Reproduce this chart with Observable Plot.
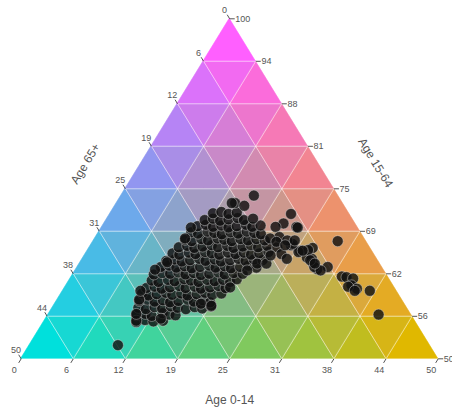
<!DOCTYPE html>
<html><head><meta charset="utf-8">
<script src="https://cdn.jsdelivr.net/npm/d3@7"></script>
<script src="https://cdn.jsdelivr.net/npm/@observablehq/plot@0.6"></script>
<style>body{margin:0;background:#fff}</style>
</head><body><div id="chart"></div>
<script>
// Axis titles and tick labels
const titleBottom = "Age 0-14";
const titleRight = "Age 15-64";
const titleLeft = "Age 65+";
const ticks0_14 = [0, 6, 12, 19, 25, 31, 38, 44, 50];
const ticks15_64 = [100, 94, 88, 81, 75, 69, 62, 56, 50];
const ticks65 = [0, 6, 12, 19, 25, 31, 38, 44, 50];

// Each entry: [share aged 0-14 (%), share aged 15-64 (%)]; 65+ is the remainder
const bodyShares = [
  [11.1,55.4],[12.0,55.7],[13.1,55.5],[14.2,55.6],
  [10.6,56.4],[11.6,56.6],[12.5,56.3],[13.6,56.7],[14.5,56.5],[15.3,56.4],
  [10.3,57.5],[11.3,57.3],[12.2,57.6],[13.2,57.4],[14.1,57.7],[15.0,57.5],[16.1,57.3],[17.0,57.6],[18.0,57.4],[18.9,57.7],
  [9.9,58.5],[10.8,58.7],[11.8,58.4],[12.7,58.6],[13.7,58.3],[14.6,58.5],[15.6,58.7],[16.5,58.4],[17.5,58.6],[18.5,58.3],
  [9.7,59.6],[10.6,59.3],[11.5,59.5],[12.5,59.7],[13.4,59.4],[14.4,59.6],[15.3,59.3],[16.3,59.5],[17.2,59.7],[18.2,59.4],[19.2,59.6],
  [9.8,60.4],[10.7,60.6],[11.7,60.3],[12.6,60.5],[13.6,60.7],[14.5,60.4],[15.5,60.6],[16.4,60.3],[17.4,60.5],[18.3,60.7],[19.3,60.4],
  [9.9,61.5],[10.8,61.3],[11.8,61.6],[12.7,61.4],[13.7,61.7],[14.6,61.5],[15.6,61.3],[16.5,61.6],[17.5,61.4],[18.4,61.6],[19.4,61.3],[20.0,61.7],
  [9.7,62.4],[10.6,62.6],[11.6,62.5],[12.5,62.7],[13.5,62.4],[14.4,62.6],[15.4,62.3],[16.3,62.5],[17.3,62.7],[18.2,62.4],[19.2,62.6],[20.3,62.5],
  [10.0,63.5],[10.9,63.7],[11.9,63.4],[12.8,63.6],[13.8,63.3],[14.7,63.5],[15.7,63.7],[16.6,63.4],[17.6,63.6],[18.5,63.3],[19.5,63.5],[20.4,63.7],[21.5,63.4],
  [10.2,64.4],[11.1,64.6],[12.1,64.3],[13.0,64.5],[14.0,64.7],[14.9,64.4],[15.9,64.6],[16.8,64.3],[17.8,64.5],[18.7,64.7],[19.7,64.4],[20.6,64.6],[21.7,64.5],
  [10.4,65.5],[11.3,65.3],[12.3,65.6],[13.2,65.4],[14.2,65.7],[15.1,65.5],[16.1,65.3],[17.0,65.6],[18.0,65.4],[18.9,65.6],[19.9,65.3],[20.8,65.5],[21.8,65.7],
  [10.7,66.4],[11.6,66.6],[12.6,66.3],[13.5,66.5],[14.5,66.7],[15.4,66.4],[16.4,66.6],[17.3,66.3],[18.3,66.5],[19.2,66.7],[20.2,66.4],[21.2,66.6],
  [10.9,67.5],[11.8,67.3],[12.8,67.6],[13.7,67.4],[14.7,67.7],[15.6,67.5],[16.6,67.3],[17.5,67.6],[18.5,67.4],[19.4,67.6],[20.5,67.4],
  [11.1,68.6],[12.0,68.4],[13.0,68.7],[13.9,68.5],[14.9,68.3],[15.8,68.6],[16.8,68.4],[17.7,68.7],[18.7,68.5],[19.6,68.3],
  [11.4,69.5],[12.3,69.7],[13.3,69.4],[14.2,69.6],[15.2,69.3],[16.1,69.5],[17.1,69.7],[18.0,69.4],[18.9,69.6],
  [11.8,70.4],[12.7,70.6],[13.7,70.3],[14.6,70.5],[15.6,70.7],[16.5,70.4],[17.5,70.6],
  [12.3,71.4],[13.2,71.6],[14.2,71.3],[15.1,71.5]
];
const edgeShares = [
  [10.7,69.3],[10.8,67.7],[9.5,63.1],[10.4,64.2],[11.0,55.6],[10.5,56.6],[9.8,58.7],[9.3,60.0],[13.8,55.9],
  [17.5,58.1],[18.9,57.8],[19.8,60.5],[20.6,63.0],[21.3,64.0]
];
const tailShares = [
  [22.5,66.4],[24.0,66.7],[25.5,65.9],[26.8,64.9],[27.5,64.7],[28.9,63.2],[30.0,63.5],[26.8,66.3],
  [28.0,64.0],[26.4,66.0],[25.4,65.7],[24.1,66.9],[23.5,65.4],[22.4,64.0],[23.3,69.4],[21.7,71.3],
  [21.5,69.9],[20.8,69.4],[23.5,69.3],[22.0,67.9],[23.2,67.4],[22.3,65.2],[28.4,63.5],[29.4,63.0],
  [21.0,67.7],[22.0,67.2],[23.3,66.7],[24.1,67.4],[25.8,65.9],[24.5,64.7],[27.4,64.5],[28.2,64.0]
];
const outlierShares = [
  [29.3,67.3],
  [32.4,62.1],[33.0,62.0],[33.9,61.8],[34.2,60.8],[35.1,60.3],[33.9,60.6],[36.8,60.0],[35.0,60.0],[39.6,56.5],
  [15.9,74.0],[14.2,72.9],[13.8,72.9],[15.5,72.5],
  [10.6,52.0]
];

// Vertex colours: top (15-64 = 100), right (0-14 = 50), left (65+ = 50)
const topColor = [269, 85, 269];
const rightColor = [233, 186, -23];
const leftColor = [-23, 232, 229];

// ternary -> plane: wT = weight of top vertex, wR = weight of right vertex
const planeX = (wT, wR) => wR + wT / 2;
const toX = ([a, b]) => planeX((b - 50) / 50, a / 50);
const toY = ([a, b]) => (b - 50) / 50;

function mix(wT, wR) {
  const wL = 1 - wT - wR;
  const c = [0, 1, 2].map(i => Math.max(0, Math.min(255, Math.round(wT * topColor[i] + wR * rightColor[i] + wL * leftColor[i]))));
  return `rgb(${c.join(",")})`;
}

const N = 8;
const cells = [];
let id = 0;
for (let q = 0; q < N; q++) {
  const y0 = q / N, y1 = (q + 1) / N;
  for (let k = 0; k < N - q; k++) {
    const xl = (k + q / 2) / N, xr = (k + 1 + q / 2) / N, xa = (k + 0.5 + q / 2) / N;
    const cx = (xl + xr + xa) / 3, cy = (2 * y0 + y1) / 3;
    const col = mix(cy, cx - cy / 2);
    cells.push({id, x: xl, y1: y0, y2: y0, fill: col}, {id, x: xa, y1: y0, y2: y1, fill: col}, {id, x: xr, y1: y0, y2: y0, fill: col});
    id++;
  }
  for (let k = 0; k < N - q - 1; k++) {
    const xl = (k + (q + 1) / 2) / N, xr = (k + 1 + (q + 1) / 2) / N, xm = (k + 1 + q / 2) / N;
    const cx = (xl + xr + xm) / 3, cy = (y0 + 2 * y1) / 3;
    const col = mix(cy, cx - cy / 2);
    cells.push({id, x: xl, y1: y1, y2: y1, fill: col}, {id, x: xm, y1: y0, y2: y1, fill: col}, {id, x: xr, y1: y1, y2: y1, fill: col});
    id++;
  }
}

const grid = [];
for (let i = 1; i < N; i++) {
  const t = i / N;
  grid.push({x1: t / 2, y1: t, x2: 1 - t / 2, y2: t});
  grid.push({x1: t, y1: 0, x2: t + (1 - t) / 2, y2: 1 - t});
  grid.push({x1: 1 - t, y1: 0, x2: (1 - t) / 2, y2: 1 - t});
}

// tick positions (base on edge, outward direction along grid line)
const tickLen = 0.012;
const leftTicks = ticks65.map((v, k) => {
  const wT = 1 - k / N;
  return {label: v, x: planeX(wT, 0), y: wT,
    x2: planeX(wT + tickLen, -tickLen), y2: wT + tickLen,
    lx: planeX(wT + 0.025, -0.025), ly: wT + 0.025};
});
const bottomTicks = ticks0_14.map((v, k) => {
  const wR = k / N;
  return {label: v, x: planeX(0, wR), y: 0,
    x2: planeX(-tickLen, wR), y2: -tickLen,
    lx: planeX(-0.033, wR), ly: -0.033};
});
const rightTicks = ticks15_64.map((v, k) => {
  const wT = 1 - k / N, wR = k / N;
  return {label: v, x: planeX(wT, wR), y: wT,
    x2: planeX(wT, wR + tickLen), y2: wT,
    lx: planeX(wT, wR + 0.0135), ly: wT};
});
const allTicks = [...leftTicks, ...bottomTicks, ...rightTicks];

const allShares = [...bodyShares, ...edgeShares, ...tailShares, ...outlierShares];
const labelFont = {fontSize: 9, fill: "#555"};

const chart = Plot.plot({
  width: 452,
  height: 407,
  margin: 0,
  style: {fontFamily: "'Liberation Sans', Arial, sans-serif", background: "white", overflow: "visible"},
  x: {domain: [0, 1], range: [20.7, 437.7], axis: null},
  y: {domain: [0, 1], range: [358.3, 18.3], axis: null},
  color: {type: "identity"},
  marks: [
    Plot.area(cells, {x1: "x", y1: "y1", y2: "y2", z: "id", fill: "fill", stroke: "fill", strokeWidth: 0.6, curve: "linear"}),
    Plot.link(grid, {x1: "x1", y1: "y1", x2: "x2", y2: "y2", stroke: "white", strokeOpacity: 0.55, strokeWidth: 1}),
    Plot.link(allTicks, {x1: "x", y1: "y", x2: "x2", y2: "y2", stroke: "#555", strokeWidth: 1}),
    Plot.text(leftTicks, {x: "lx", y: "ly", text: "label", textAnchor: "middle", ...labelFont}),
    Plot.text(bottomTicks, {x: "lx", y: "ly", text: "label", textAnchor: "middle", ...labelFont}),
    Plot.text(rightTicks, {x: "lx", y: "ly", text: "label", textAnchor: "start", ...labelFont}),
    Plot.text([titleLeft], {x: planeX(0.5, 0), y: 0.5, text: d => d, dx: -40, dy: -25, rotate: -58.5, fontSize: 12, fill: "#555"}),
    Plot.text([titleRight], {x: planeX(0.5, 0.5), y: 0.5, text: d => d, dx: 41.5, dy: -26, rotate: 58.5, fontSize: 12, fill: "#555"}),
    Plot.text([titleBottom], {x: planeX(0, 0.5), y: 0, text: d => d, dy: 41, fontSize: 12, fill: "#555"}),
    Plot.dot(allShares, {x: toX, y: toY, r: 5.5, fill: "#111", fillOpacity: 0.82, stroke: "#ddd", strokeOpacity: 0.55, strokeWidth: 0.8})
  ]
});
document.getElementById("chart").appendChild(chart);
</script>
</body></html>
